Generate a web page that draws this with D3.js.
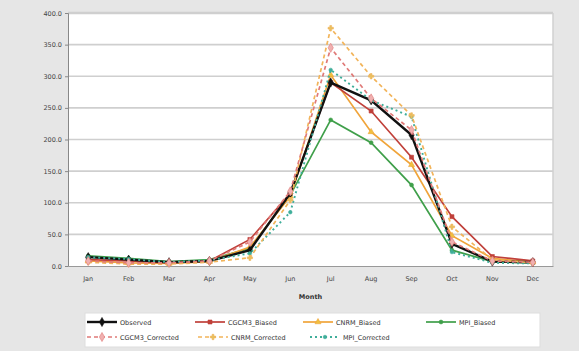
<!DOCTYPE html>
<html><head><meta charset="utf-8">
<script src="https://cdn.jsdelivr.net/npm/d3@7"></script>
<style>
html,body{margin:0;padding:0;background:#e6e6e6;}
text{font-family:"DejaVu Sans",sans-serif;}
</style></head>
<body><svg id="c" width="579" height="351"></svg>
<script>
const months = ["Jan","Feb","Mar","Apr","May","Jun","Jul","Aug","Sep","Oct","Nov","Dec"];
const yTicks = [0,50,100,150,200,250,300,350,400];
const observed       = [14,10,6,8,25,115,290,262,207,35,7,6];
const cgcm3Biased    = [10,8,5,8,42,115,290,245,172,78,15,8];
const cnrmBiased     = [8,5,4,7,30,110,302,212,160,48,12,6];
const mpiBiased      = [16,12,7,10,28,112,231,195,128,25,7,5];
const cgcm3Corrected = [8,5,5,8,38,118,345,265,215,38,8,6];
const cnrmCorrected  = [6,3,3,6,13,104,376,300,238,62,10,5];
const mpiCorrected   = [14,11,6,9,20,85,310,262,236,22,5,4];

const seriesNames = ["Observed","CGCM3_Biased","CNRM_Biased","MPI_Biased","CGCM3_Corrected","CNRM_Corrected","MPI_Corrected"];
const seriesValues = [observed,cgcm3Biased,cnrmBiased,mpiBiased,cgcm3Corrected,cnrmCorrected,mpiCorrected];
const styles = [
  {color:"#111111", dash:null, w:2.4, sym:d3.symbolDiamond, fill:"#111111", size:24},
  {color:"#c0403a", dash:null, w:1.7, sym:d3.symbolSquare, fill:"#c0403a", size:16},
  {color:"#f0a43a", dash:null, w:1.7, sym:d3.symbolTriangle, fill:"#f0c040", size:16},
  {color:"#3f9f4a", dash:null, w:1.7, sym:d3.symbolCircle, fill:"#3f9f4a", size:12},
  {color:"#e07a78", dash:"4,3", w:1.7, sym:d3.symbolDiamond, fill:"#f0b0b0", size:24},
  {color:"#f2b45a", dash:"4,3", w:1.7, sym:d3.symbolCross, fill:"#e8c060", size:16},
  {color:"#3fae9a", dash:"2,3", w:1.9, sym:d3.symbolCircle, fill:"#3fae9a", size:10}
];

const svg = d3.select("#c");
const m = {l:68, r:553, t:13, b:266};
svg.append("rect").attr("x",m.l).attr("y",m.t).attr("width",m.r-m.l).attr("height",m.b-m.t).attr("fill","#ffffff");

const x = d3.scaleBand().domain(months).range([m.l,m.r]);
const y = d3.scaleLinear().domain([0,400]).range([m.b,m.t]);

svg.append("g").selectAll("line").data(yTicks.slice(1)).join("line")
  .attr("x1",m.l).attr("x2",m.r).attr("y1",d=>y(d)).attr("y2",d=>y(d))
  .attr("stroke","#cfcfcf").attr("stroke-width",d=>d===400?2.5:1.6);
svg.append("line").attr("x1",m.r).attr("x2",m.r).attr("y1",m.t).attr("y2",m.b).attr("stroke","#d0d0d0").attr("stroke-width",1.5);

const ya = svg.append("g").attr("transform",`translate(${m.l},0)`)
  .call(d3.axisLeft(y).tickValues(yTicks).tickFormat(d3.format(".1f")).tickSize(3));
ya.select(".domain").attr("stroke","#888");
ya.selectAll("line").attr("stroke","#888");
ya.selectAll("text").attr("font-size",6.5).attr("fill","#444");

const xa = svg.append("g").attr("transform",`translate(0,${m.b})`)
  .call(d3.axisBottom(x).tickSize(0).tickPadding(10));
xa.select(".domain").attr("stroke","#999").attr("stroke-width",1.2);
xa.selectAll("text").attr("font-size",6.5).attr("fill","#444");
svg.append("text").attr("x",(m.l+m.r)/2).attr("y",299).attr("text-anchor","middle")
  .attr("font-size",6.5).attr("font-weight","bold").attr("fill","#333").text("Month");

const line = d3.line().x((d,i)=>x(months[i])+x.bandwidth()/2).y(d=>y(d));
const order = [3,2,1,0,6,5,4];
order.forEach(k=>{
  const s = styles[k];
  const g = svg.append("g");
  g.append("path").datum(seriesValues[k]).attr("d",line).attr("fill","none")
    .attr("stroke",s.color).attr("stroke-width",s.w).attr("stroke-dasharray",s.dash);
  g.selectAll("path.m").data(seriesValues[k]).join("path").attr("class","m")
    .attr("transform",(d,i)=>`translate(${x(months[i])+x.bandwidth()/2},${y(d)})`)
    .attr("d",d3.symbol().type(s.sym).size(s.size)).attr("fill",s.fill).attr("stroke",s.color).attr("stroke-width",0.6);
});

svg.append("rect").attr("x",85).attr("y",313).attr("width",455).attr("height",34).attr("fill","#ffffff").attr("stroke","#dddddd");
const legPos = [[87,322],[195,322],[303,322],[426,322],[87,337],[198,337],[310,337]];
seriesNames.forEach((n,k)=>{
  const s = styles[k];
  const [lx,ly] = legPos[k];
  const g = svg.append("g");
  g.append("line").attr("x1",lx).attr("x2",lx+30).attr("y1",ly).attr("y2",ly)
    .attr("stroke",s.color).attr("stroke-width",s.w).attr("stroke-dasharray",s.dash);
  g.append("path").attr("transform",`translate(${lx+15},${ly})`)
    .attr("d",d3.symbol().type(s.sym).size(s.size)).attr("fill",s.fill).attr("stroke",s.color).attr("stroke-width",0.6);
  g.append("text").attr("x",lx+33).attr("y",ly+2.5).attr("font-size",6.5).attr("fill","#333").text(n);
});
</script></body></html>
